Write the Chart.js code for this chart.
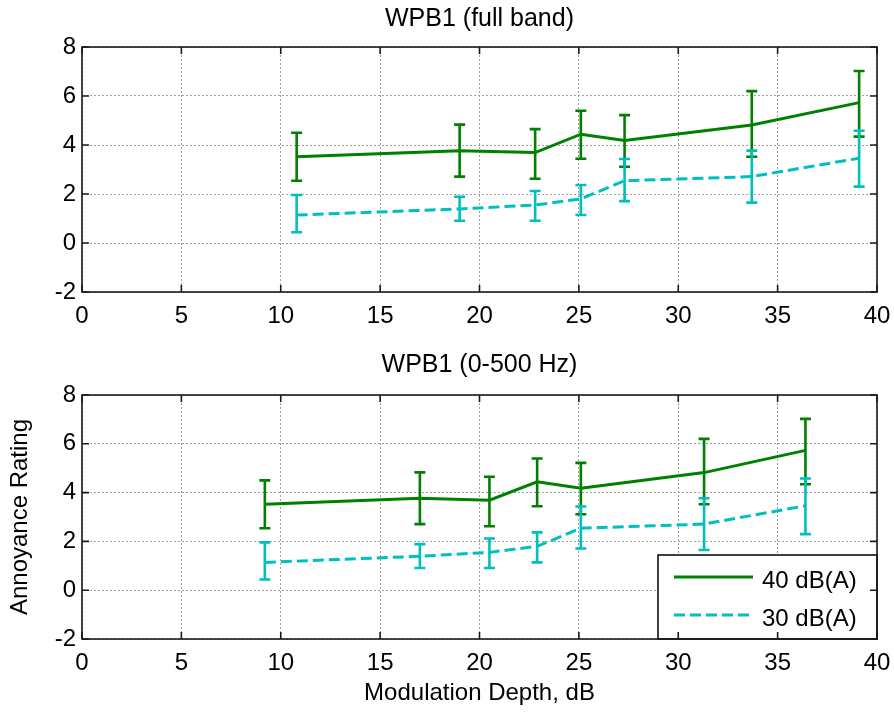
<!DOCTYPE html>
<html>
<head>
<meta charset="utf-8">
<script src="https://cdn.jsdelivr.net/npm/chart.js@4.4.0/dist/chart.umd.min.js"></script>
<style>
  html, body { margin: 0; padding: 0; background: #fff; }
  canvas { position: absolute; left: 0; }
  #top { top: 0; }
  #bottom { top: 340px; }
</style>
</head>
<body>
<canvas id="top" width="894" height="340"></canvas>
<canvas id="bottom" width="894" height="373"></canvas>
<script>
// modulation depth (dB) for each stimulus, per analysis band
const depthFullBand = [10.8, 19.0, 22.8, 25.1, 27.3, 33.7, 39.1];
const depthLowBand = [9.2, 17.0, 20.5, 22.9, 25.1, 31.3, 36.4];

// annoyance ratings, 40 dB(A)
const rating40 = [3.52, 3.77, 3.69, 4.44, 4.18, 4.82, 5.73];
const low40 = [2.54, 2.71, 2.62, 3.44, 3.11, 3.52, 4.34];
const high40 = [4.50, 4.83, 4.65, 5.40, 5.22, 6.20, 7.02];

// annoyance ratings, 30 dB(A)
const rating30 = [1.14, 1.39, 1.55, 1.80, 2.54, 2.71, 3.46];
const low30 = [0.44, 0.91, 0.91, 1.14, 1.71, 1.65, 2.30];
const high30 = [1.96, 1.89, 2.12, 2.37, 3.43, 3.77, 4.58];

const xTicks = [0, 5, 10, 15, 20, 25, 30, 35, 40];
const yTicks = [-2, 0, 2, 4, 6, 8];
const seriesLabels = ['40 dB(A)', '30 dB(A)'];

const GREEN = '#008000';
const CYAN = '#00bfbf';
const FONT = '"Liberation Sans", Arial, Helvetica, sans-serif';

// error bars, matlab style box with inward ticks, legend
const matlabAxes = {
    id: 'matlabAxes',
    afterDatasetsDraw(chart, args, opts) {
        const ctx = chart.ctx;
        const { left, right, top, bottom } = chart.chartArea;
        const xs = chart.scales.x;
        const ys = chart.scales.y;

        chart.data.datasets.forEach((ds, i) => {
            const meta = chart.getDatasetMeta(i);
            ctx.save();
            ctx.strokeStyle = ds.borderColor;
            ctx.lineWidth = 2.6;
            meta.data.forEach((pt, j) => {
                const yLo = ys.getPixelForValue(ds.errLow[j]);
                const yHi = ys.getPixelForValue(ds.errHigh[j]);
                ctx.beginPath();
                ctx.moveTo(pt.x, yLo);
                ctx.lineTo(pt.x, yHi);
                ctx.moveTo(pt.x - 5.5, yLo);
                ctx.lineTo(pt.x + 5.5, yLo);
                ctx.moveTo(pt.x - 5.5, yHi);
                ctx.lineTo(pt.x + 5.5, yHi);
                ctx.stroke();
            });
            ctx.restore();
        });

        if (opts.legend) {
            const bw = 219, bh = 84;
            const bx = right - bw, by = bottom - bh;
            ctx.save();
            ctx.fillStyle = '#fff';
            ctx.fillRect(bx, by, bw, bh);
            ctx.strokeStyle = '#000';
            ctx.lineWidth = 1.5;
            ctx.strokeRect(bx, by, bw, bh);
            ctx.font = '24px ' + FONT;
            ctx.textBaseline = 'middle';
            ctx.fillStyle = '#000';
            chart.data.datasets.forEach((ds, i) => {
                const ry = by + 22 + i * 38;
                ctx.strokeStyle = ds.borderColor;
                ctx.lineWidth = ds.borderWidth;
                ctx.setLineDash(ds.borderDash || []);
                ctx.beginPath();
                ctx.moveTo(bx + 16, ry);
                ctx.lineTo(bx + 95, ry);
                ctx.stroke();
                ctx.setLineDash([]);
                ctx.fillText(ds.label, bx + 104, ry + 4);
            });
            ctx.restore();
        }

        ctx.save();
        ctx.strokeStyle = '#1a1a1a';
        ctx.lineWidth = 1.6;
        ctx.strokeRect(left, top, right - left, bottom - top);
        ctx.beginPath();
        xs.ticks.forEach(t => {
            const px = xs.getPixelForValue(t.value);
            ctx.moveTo(px, bottom); ctx.lineTo(px, bottom - 7);
            ctx.moveTo(px, top); ctx.lineTo(px, top + 7);
        });
        ys.ticks.forEach(t => {
            const py = ys.getPixelForValue(t.value);
            ctx.moveTo(left, py); ctx.lineTo(left + 7, py);
            ctx.moveTo(right, py); ctx.lineTo(right - 7, py);
        });
        ctx.stroke();
        ctx.restore();
    }
};

function makeChart(id, title, depth, cfg) {
    const ctx = document.getElementById(id).getContext('2d');
    return new Chart(ctx, {
        type: 'line',
        data: {
            datasets: [{
                label: seriesLabels[0],
                data: depth.map((d, i) => ({ x: d, y: rating40[i] })),
                errLow: low40,
                errHigh: high40,
                borderColor: GREEN,
                borderWidth: 3,
                pointRadius: 0,
                tension: 0
            }, {
                label: seriesLabels[1],
                data: depth.map((d, i) => ({ x: d, y: rating30[i] })),
                errLow: low30,
                errHigh: high30,
                borderColor: CYAN,
                borderWidth: 3,
                borderDash: [11, 5],
                pointRadius: 0,
                tension: 0
            }]
        },
        options: {
            responsive: false,
            animation: false,
            devicePixelRatio: 1,
            layout: { padding: { left: 0, right: 17, top: 0, bottom: 0 } },
            plugins: {
                legend: { display: false },
                tooltip: { enabled: false },
                title: {
                    display: true,
                    fullSize: false,
                    text: title,
                    color: '#000',
                    font: { family: FONT, size: 25, weight: 'normal' },
                    padding: cfg.titlePad
                },
                matlabAxes: { legend: cfg.legend }
            },
            scales: {
                x: {
                    type: 'linear',
                    min: 0,
                    max: 40,
                    afterBuildTicks: s => { s.ticks = xTicks.map(v => ({ value: v })); },
                    afterFit: s => {
                        s.height = cfg.xHeight;
                        s.paddingLeft = 0;
                        s.paddingRight = 0;
                    },
                    ticks: {
                        color: '#000',
                        padding: 10,
                        autoSkip: false,
                        maxRotation: 0,
                        font: { family: FONT, size: 24 }
                    },
                    grid: { color: '#a0a0a0', lineWidth: 1, drawTicks: false },
                    border: { display: false, dash: [2, 2] },
                    title: {
                        display: cfg.xTitle,
                        text: 'Modulation Depth, dB',
                        color: '#000',
                        font: { family: FONT, size: 24 },
                        padding: { top: 0, bottom: 5 }
                    }
                },
                y: {
                    type: 'linear',
                    min: -2,
                    max: 8,
                    afterBuildTicks: s => { s.ticks = yTicks.map(v => ({ value: v })); },
                    afterFit: s => { s.width = 82; },
                    ticks: {
                        color: '#000',
                        padding: 6,
                        font: { family: FONT, size: 24 }
                    },
                    grid: { color: '#a0a0a0', lineWidth: 1, drawTicks: false },
                    border: { display: false, dash: [2, 2] },
                    title: {
                        display: cfg.yTitle,
                        text: 'Annoyance Rating',
                        color: '#000',
                        font: { family: FONT, size: 24 },
                        padding: { top: 6, bottom: 0 }
                    }
                }
            }
        },
        plugins: [matlabAxes]
    });
}

makeChart('top', 'WPB1 (full band)', depthFullBand, {
    titlePad: { top: 4, bottom: 13 },
    xHeight: 48,
    xTitle: false,
    yTitle: false,
    legend: false
});

makeChart('bottom', 'WPB1 (0-500 Hz)', depthLowBand, {
    titlePad: { top: 10, bottom: 15 },
    xHeight: 74,
    xTitle: true,
    yTitle: true,
    legend: true
});
</script>
</body>
</html>
